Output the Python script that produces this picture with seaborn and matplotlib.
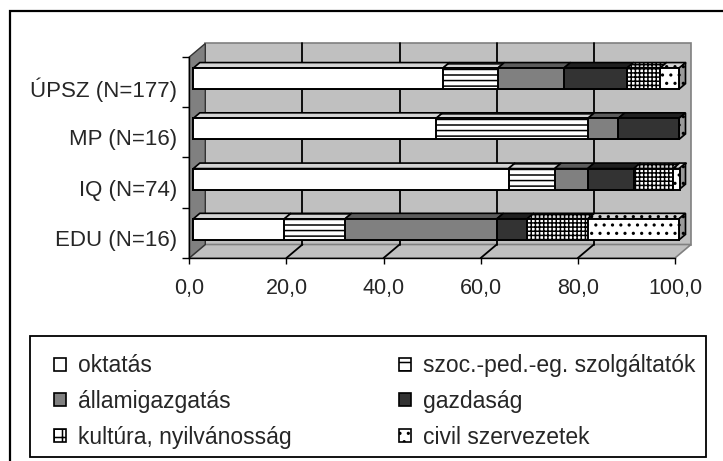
import numpy as np
import pandas as pd
import matplotlib
matplotlib.use('Agg')
import matplotlib.pyplot as plt
from matplotlib.patches import Polygon, Rectangle, Patch
from matplotlib.transforms import ScaledTranslation
import seaborn as sns

# data (percent of each group)
groups = ['ÚPSZ (N=177)', 'MP (N=16)', 'IQ (N=74)', 'EDU (N=16)']
sectors = ['oktatás', 'szoc.-ped.-eg. szolgáltatók', 'államigazgatás',
           'gazdaság', 'kultúra, nyilvánosság', 'civil szervezetek']
oktatas = [51.4, 50.0, 64.9, 18.75]
szoc = [11.3, 31.25, 9.5, 12.5]
allamig = [13.6, 6.25, 6.8, 31.25]
gazdasag = [13.0, 12.5, 9.5, 6.25]
kultura = [6.8, 0.0, 8.1, 12.5]
civil = [4.0, 0.0, 1.4, 18.75]

xticks = [0, 20, 40, 60, 80, 100]
xtick_labels = ['0,0', '20,0', '40,0', '60,0', '80,0', '100,0']

# styles per sector
face = ['white', 'white', '#808080', '#333333', 'white', 'white']
top_face = ['#d4d4d4', '#d4d4d4', '#5c5c5c', '#1f1f1f', '#d4d4d4', '#d4d4d4']
hatches = ['', '---', '', '', '++++', '..']

sns.set_style('white')
plt.rcParams['font.family'] = ['Liberation Sans', 'DejaVu Sans']
plt.rcParams['hatch.linewidth'] = 1.1

df = pd.DataFrame({'group': groups})
for name, vals in zip(sectors, [oktatas, szoc, allamig, gazdasag, kultura, civil]):
    df[name] = vals
cum = df[sectors].cumsum(axis=1)

fig = plt.figure(figsize=(7.23, 4.61), dpi=100)
ax = fig.add_axes([189.3 / 723, 1 - 258 / 461, 485.7 / 723, 201 / 461])

bar_h = 0.42
for k in reversed(range(len(sectors))):
    sns.barplot(x=cum[sectors[k]], y=df['group'], orient='h', order=groups,
                color=face[k], hatch=hatches[k], edgecolor='black',
                linewidth=1.4, width=bar_h, saturation=1, errorbar=None, ax=ax)
bars = list(ax.patches)

ax.set_xlim(0, 100)
ax.set_ylim(3.5, -0.5)

# pixel -> data conversion for the fake 3D depth
ppx = ax.bbox.width / 100
ppy = ax.bbox.height / 4
front = ax.transData + ScaledTranslation(4 / 100, 3.5 / 100, fig.dpi_scale_trans)
bdx, bdy = 6.5 / ppx, -5.5 / ppy      # bar depth
wdx, wdy = 16 / ppx, -13.5 / ppy      # wall depth

for p in bars:
    p.set_transform(front)
    p.set_clip_on(False)
    p.set_zorder(2)

# walls and floor
ax.add_patch(Polygon([(wdx, 3.5 + wdy), (100 + wdx, 3.5 + wdy),
                      (100 + wdx, -0.5 + wdy), (wdx, -0.5 + wdy)],
                     fc='#c0c0c0', ec='#808080', lw=1.2, zorder=0.1, clip_on=False))
ax.add_patch(Polygon([(0, 3.5), (100, 3.5), (100 + wdx, 3.5 + wdy), (wdx, 3.5 + wdy)],
                     fc='#c0c0c0', ec='#808080', lw=1.2, zorder=0.15, clip_on=False))
ax.add_patch(Polygon([(0, 3.5), (0, -0.5), (wdx, -0.5 + wdy), (wdx, 3.5 + wdy)],
                     fc='#808080', ec='#333333', lw=1.0, zorder=0.2, clip_on=False))
for x in xticks[1:-1]:
    ax.plot([x + wdx, x + wdx], [3.5 + wdy, -0.5 + wdy], color='black', lw=1.3,
            zorder=0.3, clip_on=False)
    ax.plot([x, x + wdx], [3.5, 3.5 + wdy], color='black', lw=1.3,
            zorder=0.3, clip_on=False)

# bar top faces and right end face
for i in range(len(groups)):
    y_top = i - bar_h / 2
    y_bot = i + bar_h / 2
    left = 0.0
    for k, name in enumerate(sectors):
        right = cum.loc[i, name]
        if right - left > 0:
            ax.add_patch(Polygon([(left, y_top), (right, y_top),
                                  (right + bdx, y_top + bdy), (left + bdx, y_top + bdy)],
                                 fc=top_face[k], ec='black', hatch=hatches[k], lw=1.2,
                                 transform=front, zorder=1.9, clip_on=False))
        left = right
    ax.add_patch(Polygon([(100, y_top), (100 + bdx, y_top + bdy),
                          (100 + bdx, y_bot + bdy), (100, y_bot)],
                         fc='#9a9a9a', ec='black', hatch=hatches[-1], lw=1.2,
                         transform=front, zorder=1.9, clip_on=False))

# axes and ticks
ax.patch.set_visible(False)
for s in ['top', 'right']:
    ax.spines[s].set_visible(False)
for s in ['left', 'bottom']:
    ax.spines[s].set_color('black')
    ax.spines[s].set_linewidth(1.0)
ax.set_xticks(xticks, labels=xtick_labels, fontsize=15.5)
ax.set_yticks([-0.5, 0.5, 1.5, 2.5, 3.5], labels=[''] * 5)
ax.set_yticks([i + 0.1 for i in range(len(groups))], labels=groups, minor=True,
              fontsize=16)
ax.tick_params(axis='x', direction='out', length=4.3, width=1, pad=10,
               color='black', bottom=True)
ax.tick_params(axis='y', which='major', direction='out', length=4.8, width=1,
               left=True, color='black')
ax.tick_params(axis='y', which='minor', length=0, pad=8.6, left=True)
ax.set_xlabel('')
ax.set_ylabel('')

# legend (frame drawn separately so the first column can sit further in)
handles = [Patch(facecolor=face[k], edgecolor='black', hatch=hatches[k][:2], lw=1.2)
           for k in range(len(sectors))]
order = [0, 2, 4, 1, 3, 5]
leg = fig.legend([handles[k] for k in order], [sectors[k] for k in order],
                 loc='center', ncol=2, mode='expand',
                 bbox_to_anchor=(44 / 723, 1 - 462 / 461, 662 / 723, 121 / 461),
                 borderaxespad=0, fontsize=16.5, handlelength=0.5, handleheight=0.5,
                 handletextpad=0.55, labelspacing=0.55, borderpad=0.45,
                 frameon=False)
fig.add_artist(Rectangle((30 / 723, 1 - 457 / 461), 676 / 723, 121 / 461, fill=False,
                         lw=1.3, ec='black', transform=fig.transFigure))

# outer chart frame (only top and left inside the crop)
fig.add_artist(Rectangle((10 / 723, -0.2), 1.5, 1.2 - 11 / 461, fill=False,
                         lw=1.6, ec='black', transform=fig.transFigure))

fig.savefig('out.png', dpi=100)
